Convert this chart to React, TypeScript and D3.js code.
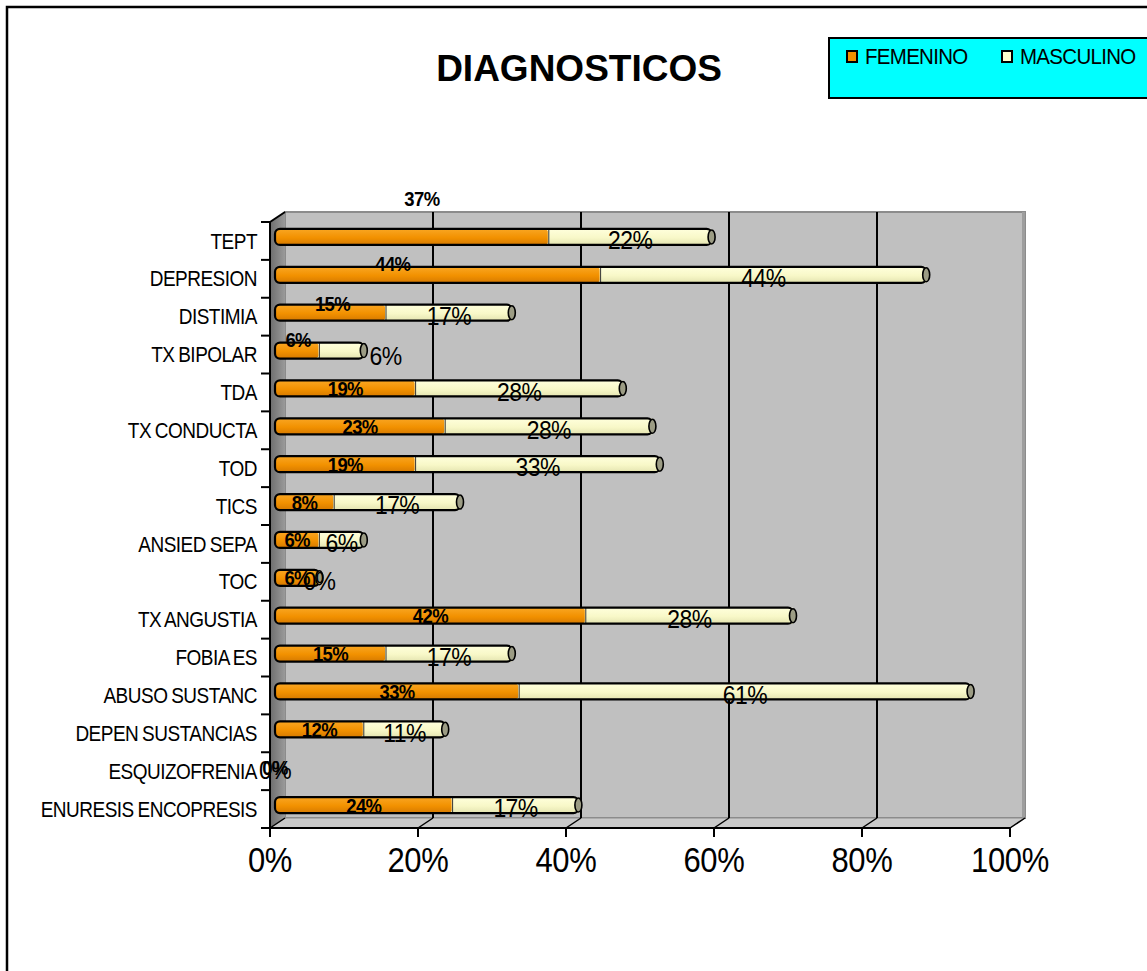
import { useEffect, useRef } from "react";
import * as d3 from "d3";

const categories = [
  "TEPT",
  "DEPRESION",
  "DISTIMIA",
  "TX BIPOLAR",
  "TDA",
  "TX CONDUCTA",
  "TOD",
  "TICS",
  "ANSIED SEPA",
  "TOC",
  "TX ANGUSTIA",
  "FOBIA ES",
  "ABUSO SUSTANC",
  "DEPEN SUSTANCIAS",
  "ESQUIZOFRENIA",
  "ENURESIS ENCOPRESIS",
];
const femenino = [37, 44, 15, 6, 19, 23, 19, 8, 6, 6, 42, 15, 33, 12, 0, 24];
const masculino = [22, 44, 17, 6, 28, 28, 33, 17, 6, 0, 28, 17, 61, 11, 0, 17];
const xTicks = [0, 20, 40, 60, 80, 100];
const seriesNames = ["FEMENINO", "MASCULINO"];

// excel moved a few labels around, keep those nudges here
const femNudge: Record<string, [number, number]> = {
  TEPT: [10, -38],
  DEPRESION: [-45, -11],
  DISTIMIA: [2, -9],
  "TX BIPOLAR": [1, -11],
};
const mascNudge: Record<string, [number, number]> = {
  "TX BIPOLAR": [44, 2],
};

const FONT = "'Liberation Sans', Arial, sans-serif";
const STRETCH = 1.12; // the original picture is a bit taller than wide

const App = () => {
  const ref = useRef<SVGSVGElement>(null);

  useEffect(() => {
    const svg = d3.select(ref.current);
    svg.selectAll("*").remove();

    const dx = 15;
    const dy = -10;
    const x = d3.scaleLinear().domain([0, 100]).range([270, 1010]);
    const y = d3.scaleBand().domain(categories).range([222, 828]);
    const xb = (v: number) => x(v) + 5;
    const barH = 16;
    const barMid = (c: string) => (y(c) as number) + y.bandwidth() / 2 - 4;
    const place = (px: number, py: number) => `translate(${px},${py}) scale(1,${STRETCH})`;

    const defs = svg.append("defs");
    const og = defs.append("linearGradient").attr("id", "gOr").attr("x1", 0).attr("y1", 0).attr("x2", 0).attr("y2", 1);
    og.append("stop").attr("offset", "0%").attr("stop-color", "#F9A623");
    og.append("stop").attr("offset", "55%").attr("stop-color", "#F29100");
    og.append("stop").attr("offset", "100%").attr("stop-color", "#D67A00");
    const yg = defs.append("linearGradient").attr("id", "gYe").attr("x1", 0).attr("y1", 0).attr("x2", 0).attr("y2", 1);
    yg.append("stop").attr("offset", "0%").attr("stop-color", "#FFFFDC");
    yg.append("stop").attr("offset", "55%").attr("stop-color", "#F8F8C8");
    yg.append("stop").attr("offset", "100%").attr("stop-color", "#E4E4B0");
    const wg = defs.append("linearGradient").attr("id", "gWall").attr("x1", 0).attr("y1", 0).attr("x2", 1).attr("y2", 0);
    wg.append("stop").attr("offset", "0%").attr("stop-color", "#6E6E6E");
    wg.append("stop").attr("offset", "100%").attr("stop-color", "#9A9A9A");

    // outer chart border (runs off the picture on the right and bottom)
    svg.append("rect")
      .attr("x", 7).attr("y", 7).attr("width", 1200).attr("height", 1050)
      .attr("fill", "#fff").attr("stroke", "#000").attr("stroke-width", 2.5);

    // title
    svg.append("text")
      .attr("x", 579).attr("y", 81)
      .attr("text-anchor", "middle")
      .style("font-family", FONT).style("font-weight", 700).style("font-size", "37px")
      .text("DIAGNOSTICOS");

    // legend
    const lg = svg.append("g");
    lg.append("rect").attr("x", 829).attr("y", 38).attr("width", 330).attr("height", 60)
      .attr("fill", "#00FFFF").attr("stroke", "#000").attr("stroke-width", 2);
    const legX = [847, 1002];
    const legFill = ["#F29100", "#FFFFCC"];
    seriesNames.forEach((n, i) => {
      lg.append("rect").attr("x", legX[i]).attr("y", 51).attr("width", 10).attr("height", 11)
        .attr("fill", legFill[i]).attr("stroke", "#000").attr("stroke-width", 2);
      lg.append("text").attr("transform", place(legX[i] + 18, 64))
        .style("font-family", FONT).style("font-size", "20.5px").attr("letter-spacing", -0.7)
        .text(n);
    });

    // 3d walls
    const top = y.range()[0];
    const bot = y.range()[1];
    const x0 = x(0);
    const x1 = x(100);
    svg.append("rect")
      .attr("x", x0 + dx).attr("y", top + dy).attr("width", x1 - x0).attr("height", bot - top)
      .attr("fill", "#C0C0C0").attr("stroke", "#8C8C8C").attr("stroke-width", 2);
    svg.append("rect")
      .attr("x", x1 + dx - 3).attr("y", top + dy).attr("width", 3).attr("height", bot - top)
      .attr("fill", "#9E9E9E");
    svg.append("polygon")
      .attr("points", [[x0, top], [x0 + dx, top + dy], [x0 + dx, bot + dy], [x0, bot]].join(" "))
      .attr("fill", "url(#gWall)");
    svg.append("polygon")
      .attr("points", [[x0, bot], [x0 + dx, bot + dy], [x1 + dx, bot + dy], [x1, bot]].join(" "))
      .attr("fill", "#CACACA").attr("stroke", "#8C8C8C").attr("stroke-width", 1);

    // back gridlines
    svg.append("g").selectAll("line")
      .data(xTicks.filter((t) => t > 0 && t < 100))
      .enter().append("line")
      .attr("x1", (d) => x(d) + dx).attr("x2", (d) => x(d) + dx)
      .attr("y1", top + dy).attr("y2", bot + dy)
      .attr("stroke", "#000").attr("stroke-width", 2);

    // floor diagonals at ticks
    svg.append("g").selectAll("line")
      .data(xTicks)
      .enter().append("line")
      .attr("x1", (d) => x(d)).attr("x2", (d) => x(d) + dx)
      .attr("y1", bot).attr("y2", bot + dy)
      .attr("stroke", "#000").attr("stroke-width", 1.5);

    // axes
    const ax = svg.append("g").attr("stroke", "#000").attr("stroke-width", 2);
    ax.append("line").attr("x1", x0).attr("x2", x0).attr("y1", top).attr("y2", bot);
    ax.append("line").attr("x1", x0).attr("x2", x0 + dx).attr("y1", top).attr("y2", top + dy);
    ax.append("line").attr("x1", x0 - 1).attr("x2", x1).attr("y1", bot).attr("y2", bot);
    const edges = categories.map((c) => y(c) as number).concat([bot]);
    ax.selectAll(".ytick").data(edges).enter().append("line")
      .attr("x1", x0 - 9).attr("x2", x0).attr("y1", (d) => d).attr("y2", (d) => d);
    ax.selectAll(".xtick").data(xTicks).enter().append("line")
      .attr("x1", (d) => x(d)).attr("x2", (d) => x(d)).attr("y1", bot).attr("y2", bot + 9);

    // category labels
    svg.append("g").selectAll("text")
      .data(categories)
      .enter().append("text")
      .attr("transform", (d) => place(257, (y(d) as number) + y.bandwidth() / 2))
      .attr("dy", "0.36em")
      .attr("text-anchor", "end")
      .attr("letter-spacing", -0.5)
      .attr("word-spacing", -1)
      .style("font-family", FONT).style("font-size", "19px")
      .text((d) => d);

    // x tick labels
    svg.append("g").selectAll("text")
      .data(xTicks)
      .enter().append("text")
      .attr("transform", (d) => place(x(d), 872))
      .attr("text-anchor", "middle")
      .attr("letter-spacing", -0.3)
      .style("font-family", FONT).style("font-size", "31px")
      .text((d) => d + "%");

    // bars
    const rows = categories.map((c, i) => ({ c, f: femenino[i], m: masculino[i] }));
    const bars = svg.append("g").selectAll("g")
      .data(rows.filter((r) => r.f + r.m > 0))
      .enter().append("g");
    bars.append("rect")
      .attr("x", xb(0)).attr("y", (d) => barMid(d.c) - barH / 2)
      .attr("width", (d) => xb(d.f + d.m) - xb(0)).attr("height", barH)
      .attr("rx", 5).attr("fill", "url(#gYe)");
    bars.append("rect")
      .attr("x", xb(0)).attr("y", (d) => barMid(d.c) - barH / 2)
      .attr("width", (d) => Math.max(0, xb(d.f) - xb(0))).attr("height", barH)
      .attr("rx", 5).attr("fill", "url(#gOr)");
    bars.filter((d) => d.m > 0).append("rect")
      .attr("x", (d) => xb(d.f) - 1).attr("y", (d) => barMid(d.c) - barH / 2)
      .attr("width", (d) => xb(d.f + d.m) - xb(d.f) + 1).attr("height", barH)
      .attr("fill", "url(#gYe)");
    bars.filter((d) => d.m > 0 && d.f > 0).append("line")
      .attr("x1", (d) => xb(d.f)).attr("x2", (d) => xb(d.f))
      .attr("y1", (d) => barMid(d.c) - barH / 2).attr("y2", (d) => barMid(d.c) + barH / 2)
      .attr("stroke", "#333").attr("stroke-width", 1);
    bars.append("rect")
      .attr("x", xb(0)).attr("y", (d) => barMid(d.c) - barH / 2)
      .attr("width", (d) => xb(d.f + d.m) - xb(0)).attr("height", barH)
      .attr("rx", 5).attr("fill", "none").attr("stroke", "#000").attr("stroke-width", 2.2);
    bars.append("ellipse")
      .attr("cx", (d) => xb(d.f + d.m)).attr("cy", (d) => barMid(d.c))
      .attr("rx", 3.5).attr("ry", barH / 2 - 1)
      .attr("fill", "#9C9C84").attr("stroke", "#000").attr("stroke-width", 1.6);

    // value labels
    const lab = svg.append("g").style("font-family", FONT);
    lab.selectAll(".fl").data(rows).enter().append("text")
      .attr("transform", (d) => place(
        xb(d.f / 2) + (femNudge[d.c] ? femNudge[d.c][0] : 0),
        barMid(d.c) + (femNudge[d.c] ? femNudge[d.c][1] : 0),
      ))
      .attr("dy", "0.36em")
      .attr("text-anchor", "middle")
      .attr("letter-spacing", -0.6)
      .style("font-weight", 700).style("font-size", "18.5px")
      .text((d) => d.f + "%");
    lab.selectAll(".ml").data(rows).enter().append("text")
      .attr("transform", (d) => place(
        xb(d.f + d.m / 2) + (mascNudge[d.c] ? mascNudge[d.c][0] : 0),
        barMid(d.c) + 3 + (mascNudge[d.c] ? mascNudge[d.c][1] : 0),
      ))
      .attr("dy", "0.36em")
      .attr("text-anchor", "middle")
      .attr("letter-spacing", -0.6)
      .style("font-size", "23px")
      .text((d) => d.m + "%");
  }, []);

  return (
    <svg
      ref={ref}
      width={1147}
      height={971}
      style={{ position: "absolute", left: 0, top: 0, background: "#fff" }}
    />
  );
};

export default App;
